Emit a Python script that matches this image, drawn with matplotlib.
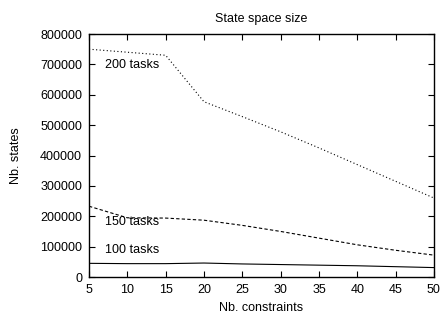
import matplotlib
matplotlib.use('Agg')
import matplotlib.pyplot as plt

plt.rcParams['font.family'] = ['Liberation Sans', 'DejaVu Sans']

# Data
constraints = [5, 10, 15, 20, 25, 30, 35, 40, 45, 50]
tasks_200 = [750000, 740000, 730000, 577000, 528000, 478000, 425000, 370000, 315000, 260000]
tasks_150 = [233000, 195000, 194000, 187000, 170000, 150000, 128000, 106000, 88000, 72000]
tasks_100 = [45000, 44000, 44000, 46000, 43000, 41000, 39000, 37000, 34000, 31000]

xticks = list(range(5, 51, 5))
yticks = list(range(0, 800001, 100000))

fig = plt.figure(figsize=(4.41, 3.16), dpi=100)
ax = fig.add_axes([0.2018, 0.1234, 0.7822, 0.769])

ax.plot(constraints, tasks_200, color='black', linestyle=(0, (1, 2.2)), linewidth=0.8)
ax.plot(constraints, tasks_150, color='black', linestyle=(0, (3, 2)), linewidth=0.8)
ax.plot(constraints, tasks_100, color='black', linestyle='-', linewidth=0.8)

ax.text(7.1, 697000, '200 tasks', fontsize=9, va='center', ha='left')
ax.text(7.1, 181000, '150 tasks', fontsize=9, va='center', ha='left')
ax.text(7.1, 89000, '100 tasks', fontsize=9, va='center', ha='left')

ax.set_xlim(5, 50)
ax.set_ylim(0, 800000)
ax.set_xticks(xticks)
ax.set_yticks(yticks)
ax.set_xticklabels([str(v) for v in xticks])
ax.set_yticklabels([str(v) for v in yticks])
ax.tick_params(direction='in', top=True, right=True, length=4, width=0.8,
               labelsize=9, pad=5)
for s in ax.spines.values():
    s.set_linewidth(1.0)

ax.set_title('State space size', fontsize=9, pad=9)
ax.set_xlabel('Nb. constraints', fontsize=9, labelpad=4)
ax.set_ylabel('Nb. states', fontsize=9, labelpad=13)

fig.savefig('out.png', dpi=100)
